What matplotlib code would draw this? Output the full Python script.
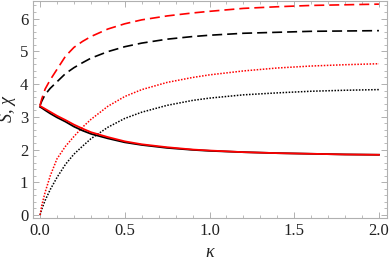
import numpy as np
import matplotlib
matplotlib.use("Agg")
import matplotlib.pyplot as plt
from matplotlib.ticker import MultipleLocator

SERIF = 'Liberation Serif'

kappa = [0, 0.01, 0.03, 0.06, 0.1, 0.15, 0.2, 0.25, 0.3, 0.4, 0.5, 0.6,
         0.75, 0.9, 1.0, 1.2, 1.4, 1.6, 1.8, 2.0]

S_black = [3.30, 3.27, 3.20, 3.10, 2.98, 2.85, 2.70, 2.58, 2.48, 2.34, 2.22,
           2.14, 2.05, 1.99, 1.96, 1.92, 1.89, 1.87, 1.85, 1.84]
S_red = [3.33, 3.30, 3.24, 3.15, 3.03, 2.90, 2.76, 2.64, 2.53, 2.38, 2.25,
         2.16, 2.07, 2.00, 1.97, 1.92, 1.89, 1.87, 1.85, 1.84]
dash_black = [3.35, 3.48, 3.68, 3.87, 4.07, 4.32, 4.50, 4.65, 4.79, 4.99, 5.14,
              5.25, 5.37, 5.45, 5.49, 5.55, 5.58, 5.61, 5.62, 5.63]
dash_red = [3.35, 3.55, 3.85, 4.13, 4.45, 4.85, 5.12, 5.30, 5.45, 5.68, 5.84,
            5.96, 6.08, 6.17, 6.22, 6.31, 6.36, 6.40, 6.42, 6.44]
dot_black = [0, 0.18, 0.45, 0.78, 1.15, 1.55, 1.86, 2.10, 2.33, 2.68, 2.95,
             3.14, 3.35, 3.50, 3.57, 3.67, 3.73, 3.78, 3.81, 3.83]
dot_red = [0, 0.30, 0.70, 1.20, 1.72, 2.10, 2.40, 2.68, 2.92, 3.32, 3.62,
           3.83, 4.05, 4.20, 4.28, 4.40, 4.49, 4.55, 4.59, 4.62]

fig = plt.figure(figsize=(3.9, 2.62), dpi=100)
ax = fig.add_axes([0.085, 0.168, 0.907, 0.83])

ax.plot(kappa, dot_black, color='black', lw=1.1, linestyle=(0, (1, 1)))
ax.plot(kappa, dot_red, color='red', lw=1.1, linestyle=(0, (1, 1)))
ax.plot(kappa, dash_black, color='black', lw=1.2, linestyle=(0, (6, 3)))
ax.plot(kappa, dash_red, color='red', lw=1.2, linestyle=(0, (6, 3)))
ax.plot(kappa, S_black, color='black', lw=1.3)
ax.plot(kappa, S_red, color='red', lw=1.3)

ax.set_xlim(-0.041, 2.047)
ax.set_ylim(-0.09, 6.55)
ax.xaxis.set_major_locator(MultipleLocator(0.5))
ax.xaxis.set_minor_locator(MultipleLocator(0.1))
ax.yaxis.set_major_locator(MultipleLocator(1))
ax.yaxis.set_minor_locator(MultipleLocator(0.2))

xt = [0.0, 0.5, 1.0, 1.5, 2.0]
yt = [0, 1, 2, 3, 4, 5, 6]
ax.set_xticks(xt)
ax.set_xticklabels(['%.1f' % v for v in xt], family=SERIF, fontsize=12)
ax.set_yticks(yt)
ax.set_yticklabels([str(v) for v in yt], family=SERIF, fontsize=12)

for s in ax.spines.values():
    s.set_color('#b0b0b0')
    s.set_linewidth(0.8)
ax.tick_params(which='both', direction='in', top=True, right=True,
               color='#b0b0b0', labelcolor='#222222')
ax.tick_params(which='major', length=4, width=0.7)
ax.tick_params(which='minor', length=2, width=0.6)

ax.set_xlabel('κ', family=SERIF, fontstyle='italic', fontsize=13, color='#222222')
ax.set_ylabel('S, χ', family=SERIF, fontstyle='italic', fontsize=13,
              color='#222222', labelpad=3)

fig.savefig('out.png', dpi=100)
